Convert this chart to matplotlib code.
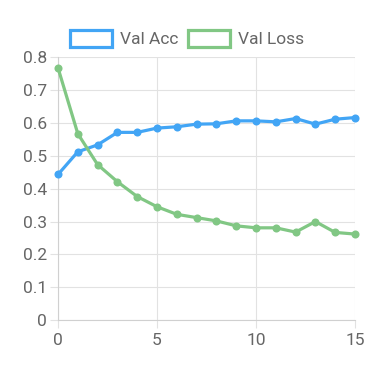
import matplotlib
matplotlib.use("Agg")
import matplotlib.pyplot as plt
from matplotlib.patches import Patch

plt.rcParams['font.family'] = ['Roboto', 'DejaVu Sans']

epochs = list(range(16))
val_acc = [0.443, 0.512, 0.533, 0.571, 0.571, 0.584, 0.588, 0.596,
           0.597, 0.606, 0.606, 0.603, 0.613, 0.596, 0.611, 0.616]
val_loss = [0.767, 0.567, 0.473, 0.421, 0.376, 0.345, 0.322, 0.312,
            0.302, 0.287, 0.281, 0.281, 0.268, 0.300, 0.267, 0.262]
x_ticks = [0, 5, 10, 15]
y_ticks = [0, 0.1, 0.2, 0.3, 0.4, 0.5, 0.6, 0.7, 0.8]
y_labels = ['0', '0.1', '0.2', '0.3', '0.4', '0.5', '0.6', '0.7', '0.8']
labels = ['Val Acc', 'Val Loss']
colors = ['#42A5F5', '#81C784']

fig = plt.figure(figsize=(3.75, 3.75), dpi=100)
ax = fig.add_axes([58/375, 1-320.3/375, 297/375, (320.3-57)/375])

for vals, c in zip([val_acc, val_loss], colors):
    ax.plot(epochs, vals, color=c, lw=2.3, marker='o', ms=5.8,
            markeredgewidth=0, solid_joinstyle='round', clip_on=False, zorder=3)

ax.set_xlim(0, 15)
ax.set_ylim(0, 0.8)
ax.set_xticks(x_ticks)
ax.set_xticklabels([str(t) for t in x_ticks])
ax.set_yticks(y_ticks)
ax.set_yticklabels(y_labels)
ax.grid(True, color='#e2e2e2', lw=0.8, zorder=0)
for side in ['top', 'right']:
    ax.spines[side].set_visible(False)
for side in ['left', 'bottom']:
    ax.spines[side].set_color('#d0d0d0')
    ax.spines[side].set_linewidth(0.8)
ax.tick_params(axis='both', colors='#e2e2e2', length=6, width=0.8,
               labelcolor='#666666', labelsize=12.5)
ax.tick_params(axis='y', pad=2)
ax.tick_params(axis='x', pad=3)

handles = [Patch(facecolor='#ffffff', edgecolor=c, linewidth=2.3, label=l)
           for c, l in zip(colors, labels)]
fig.legend(handles=handles, loc='center', bbox_to_anchor=(187/375, 1-38.5/375),
           ncol=2, frameon=False, fontsize=12.5, handlelength=2.4,
           handleheight=1.1, handletextpad=0.45, columnspacing=0.6,
           labelcolor='#666666', borderpad=0)

fig.savefig('out.png', dpi=100)
